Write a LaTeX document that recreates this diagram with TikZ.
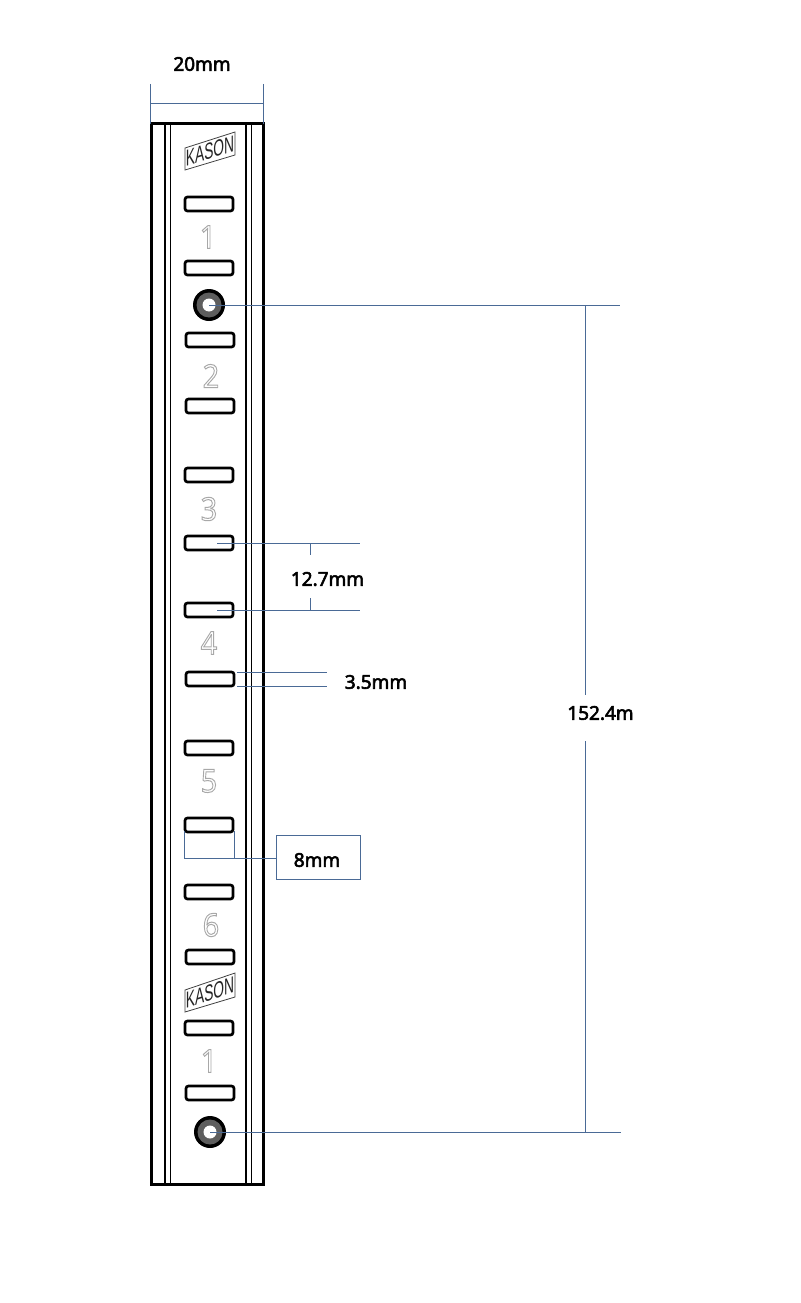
\documentclass[tikz,border=0pt]{standalone}
\usepackage{fontspec}
\setmainfont{Noto Sans}
\newfontfamily\logofont{Liberation Sans}
\definecolor{dimblue}{HTML}{4A6A96}
\definecolor{ringgray}{HTML}{5E5E5E}
\newcommand{\outlined}[1]{\special{pdf:code 1 Tr 1 w 0.66 0.66 0.66 RG}#1\special{pdf:code 0 Tr}}
\newcommand{\heavy}[1]{\special{pdf:code 2 Tr 0.55 w 0 0 0 RG}#1\special{pdf:code 0 Tr}}
\tikzset{
  slot/.style={draw=black,line width=2.7pt,rounded corners=2.5pt,minimum width=48pt,minimum height=14pt,inner sep=0pt,outer sep=0pt,fill=white},
  stamp/.style={text=black!35,font=\fontsize{32}{32}\selectfont,inner sep=0pt,xscale=.9},
  dimline/.style={draw=dimblue,line width=1pt},
  dimtext/.style={font=\fontsize{19}{19}\selectfont,text=black,inner sep=0pt},
  logotext/.style={font=\logofont\fontsize{23}{23}\selectfont,inner sep=0pt,text=black!85,transform shape},
}
\begin{document}
\begin{tikzpicture}[x=1pt,y=-1pt]
\useasboundingbox (0,0) rectangle (800,1303);
% strip
\node[draw=black,line width=3pt,minimum width=112pt,minimum height=1060pt,inner sep=0pt,outer sep=0pt] (strip) at (207,654) {};
\draw[line width=1.4pt] (165,124) -- (165,1184) (170.5,124) -- (170.5,1184)
  (246,124) -- (246,1184) (251.5,124) -- (251.5,1184);
% logos
\draw[line width=.8pt,black!75] (185,148) -- (235,132) -- (235,155) -- (185,170) -- cycle;
\begin{scope}[shift={(210,151)},yslant=.31,xscale=.6]
\node[logotext] (logoa) at (0,0) {KASON};
\end{scope}
\draw[line width=.8pt,black!75] (185,990) -- (235,973) -- (235,997) -- (185,1012) -- cycle;
\begin{scope}[shift={(210,992.5)},yslant=.33,xscale=.6]
\node[logotext] (logob) at (0,0) {KASON};
\end{scope}
% slots
\foreach \n/\x/\y in {a/209/204,b/209/268,c/210/340,d/210/406,e/209/475,f/209/543,g/209/610,h/210/679,i/209/748,j/209/825,k/209/892,l/210/957,m/209/1028,n/210/1093}
  \node[slot] (slot\n) at (\x,\y) {};
% stamped numbers
\node[stamp] (numa) at (208,237) {\outlined{1}};
\node[stamp] (numb) at (211,376) {\outlined{2}};
\node[stamp] (numc) at (209,509) {\outlined{3}};
\node[stamp] (numd) at (209,643) {\outlined{4}};
\node[stamp] (nume) at (209,781) {\outlined{5}};
\node[stamp] (numf) at (211,925) {\outlined{6}};
\node[stamp] (numg) at (209,1061) {\outlined{1}};
% holes
\foreach \n/\x/\y in {top/209/305,bot/210/1132}{
  \fill[black] (\x,\y) circle[radius=16];
  \fill[ringgray] (\x,\y) circle[radius=12.5];
  \fill[white] (\x,\y) circle[radius=6.5];
  \coordinate (hole\n) at (\x,\y);
}
% 20 mm
\coordinate (wla) at (150.5,84); \coordinate (wlb) at (150.5,124);
\coordinate (wra) at (263.5,84); \coordinate (wrb) at (263.5,124);
\coordinate (wl) at (150.5,103.5); \coordinate (wr) at (263.5,103.5);
\draw[dimline] (wla) -- (wlb) (wra) -- (wrb) (wl) -- (wr);
\node[dimtext] (lab20) at (202,64) {\heavy{20mm}};
% 152.4
\coordinate (topend) at (620,305.5); \coordinate (botend) at (621,1132.5);
\coordinate (vt) at (585.5,305.5); \coordinate (vb) at (585.5,1132.5);
\coordinate (holetopline) at (209,305.5);
\coordinate (holebotline) at (210,1132.5);
\draw[dimline] (holetopline) -- (topend);
\draw[dimline] (holebotline) -- (botend);
\node[dimtext] (lab152) at (600.5,713) {\heavy{152.4m}};
\draw[dimline] (vt) -- (585.5,695);
\draw[dimline] (585.5,741) -- (vb);
% 12.7
\coordinate (pa) at (217,543.5); \coordinate (pb) at (360,543.5);
\coordinate (qa) at (217,610.5); \coordinate (qb) at (360,610.5);
\draw[dimline] (pa) -- (pb);
\draw[dimline] (qa) -- (qb);
\node[dimtext] (lab127) at (327.5,579) {\heavy{12.7mm}};
\draw[dimline] (310.5,543.5) -- (310.5,555);
\draw[dimline] (310.5,598) -- (310.5,610.5);
% 3.5
\coordinate (ra) at (237,672.5); \coordinate (rb) at (327,672.5);
\coordinate (sa) at (237,686.5); \coordinate (sb) at (327,686.5);
\draw[dimline] (ra) -- (rb);
\draw[dimline] (sa) -- (sb);
\node[dimtext] (lab35) at (376,682) {\heavy{3.5mm}};
% 8
\node[draw=dimblue,line width=1pt,minimum width=84pt,minimum height=44pt,inner sep=0pt,outer sep=0pt] (box8) at (318,857) {};
\node[dimtext] (lab8) at (317,860) {\heavy{8mm}};
\coordinate (ua) at (184.5,831); \coordinate (ub) at (184.5,858.5);
\coordinate (va) at (234.5,831); \coordinate (vbb) at (234.5,858.5);
\draw[dimline] (ua) -- (ub) -- (ub -| box8.west);
\draw[dimline] (va) -- (vbb);
\end{tikzpicture}
\end{document}
